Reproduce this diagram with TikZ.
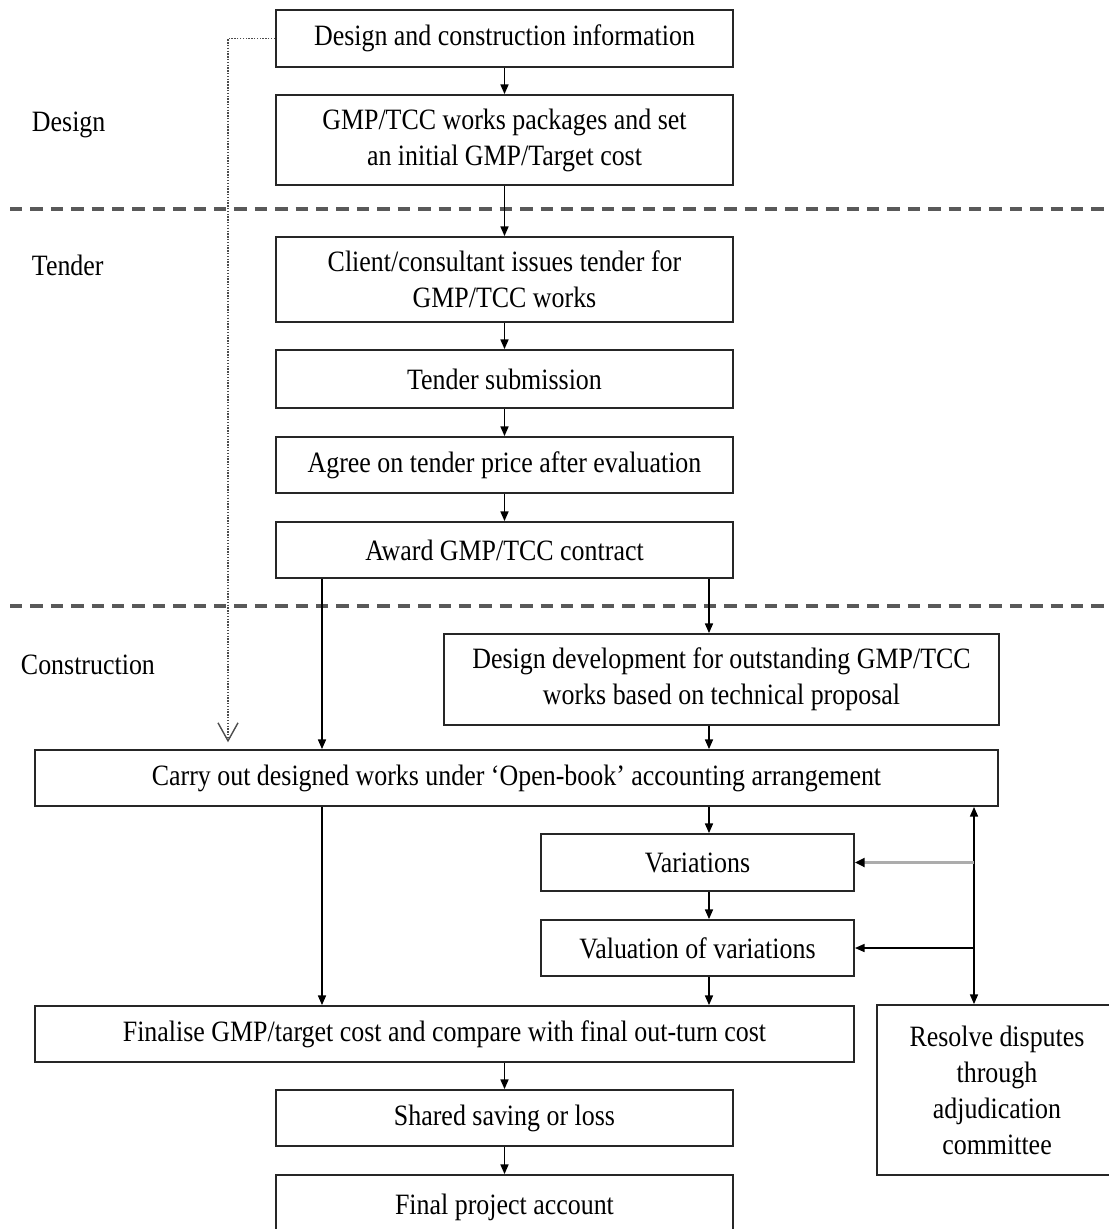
\documentclass[tikz,border=0pt]{standalone}
\usepackage{fontspec}
\setmainfont{Liberation Serif}[FakeStretch=0.878]
\usetikzlibrary{arrows.meta,positioning,calc}

\begin{document}
\begin{tikzpicture}[x=0.025cm,y=-0.025cm,
    stage/.style={draw=black!85,line width=1.3pt,fill=white,align=center,
      font=\fontsize{21}{25.6}\selectfont,inner sep=2pt,minimum width=11.425cm,
      minimum height=1.4cm},
    flow/.style={line width=1.05pt,-{Triangle[length=0.24cm,width=0.2cm]}},
    feedback/.style={gray!65,line width=2.8pt,
      -{Triangle[length=0.24cm,width=0.22cm,color=black]}},
    phase/.style={black!65,line width=2.2pt,dash pattern=on 0.31cm off 0.2cm},
    lbl/.style={anchor=west,font=\fontsize{21}{25.6}\selectfont}]
    \useasboundingbox (0,0) rectangle (1109,1229);
    % columns used by the connectors
    \coordinate (colD) at (228,0);
    \coordinate (colA) at (322,0);
    \coordinate (colB) at (709,0);
    \coordinate (colR) at (974,0);
    % phase separators and phase names
    \draw[phase] (10,209) -- (1109,209);
    \draw[phase] (10,606) -- (1109,606);
    \node[lbl] (design) at (27,125) {Design};
    \node[lbl] (tender) at (27,265) {Tender};
    \node[lbl] (constr) at (16,665) {Construction};
    % stages
    \node[stage,minimum height=1.425cm] (info) at (504.5,38.5)
        {Design and construction information};
    \node[stage,minimum height=2.25cm] (packages) at (504.5,140)
        {GMP/TCC works packages and set\\an initial GMP/Target cost};
    \node[stage,minimum height=2.125cm] (issue) at (504.5,279.5)
        {Client/consultant issues tender for\\GMP/TCC works};
    \node[stage,minimum height=1.45cm] (submit) at (504.5,379) {Tender submission};
    \node[stage] (agree) at (504.5,465) {Agree on tender price after evaluation};
    \node[stage] (award) at (504.5,550) {Award GMP/TCC contract};
    \node[stage,minimum width=13.875cm,minimum height=2.275cm] (develop) at (721.5,679.5)
        {Design development for outstanding GMP/TCC\\works based on technical proposal};
    \node[stage,minimum width=24.075cm] (carry) at (516.5,778)
        {Carry out designed works under ‘Open-book’ accounting arrangement};
    \node[stage,minimum width=7.825cm,minimum height=1.425cm] (vari) at (697.5,862.5)
        {Variations};
    \node[stage,minimum width=7.825cm] (valu) at (697.5,948) {Valuation of variations};
    \node[stage,minimum width=20.475cm] (final) at (444.5,1034)
        {Finalise GMP/target cost and compare with final out-turn cost};
    \node[stage,minimum width=6cm,minimum height=4.25cm] (resolve) at (997,1090)
        {Resolve disputes\\through\\adjudication\\committee};
    \node[stage] (share) at (504.5,1118) {Shared saving or loss};
    \node[stage,minimum height=1.6cm] (account) at (504.5,1207) {Final project account};
    % main flow
    \draw[flow] (info) -- (packages);
    \draw[flow] (packages) -- (issue);
    \draw[flow] (issue) -- (submit);
    \draw[flow] (submit) -- (agree);
    \draw[flow] (agree) -- (award);
    \draw[flow] (award.south -| colA) -- (carry.north -| colA);
    \draw[flow] (award.south -| colB) -- (develop.north -| colB);
    \draw[flow] (develop.south -| colB) -- (carry.north -| colB);
    \draw[flow] (carry.south -| colB) -- (vari.north -| colB);
    \draw[flow] (vari.south -| colB) -- (valu.north -| colB);
    \draw[flow] (valu.south -| colB) -- (final.north -| colB);
    \draw[flow] (carry.south -| colA) -- (final.north -| colA);
    \draw[flow] (final.south -| share.north) -- (share);
    \draw[flow] (share) -- (account);
    % information feed and disputes
    \draw[black!70,line width=1pt,densely dotted,shorten >=0.17cm,
        -{Straight Barb[length=0.45cm,width=0.5cm,line width=1pt,sep=0pt]}]
        (info.west) -| (carry.north -| colD);
    \draw[flow,{Triangle[length=0.24cm,width=0.2cm]}-{Triangle[length=0.24cm,width=0.2cm]}]
        (carry.south -| colR) -- (resolve.north -| colR);
    \draw[feedback] (vari.east -| colR) -- (vari.east);
    \draw[flow] (valu.east -| colR) -- (valu.east);
\end{tikzpicture}
\end{document}
